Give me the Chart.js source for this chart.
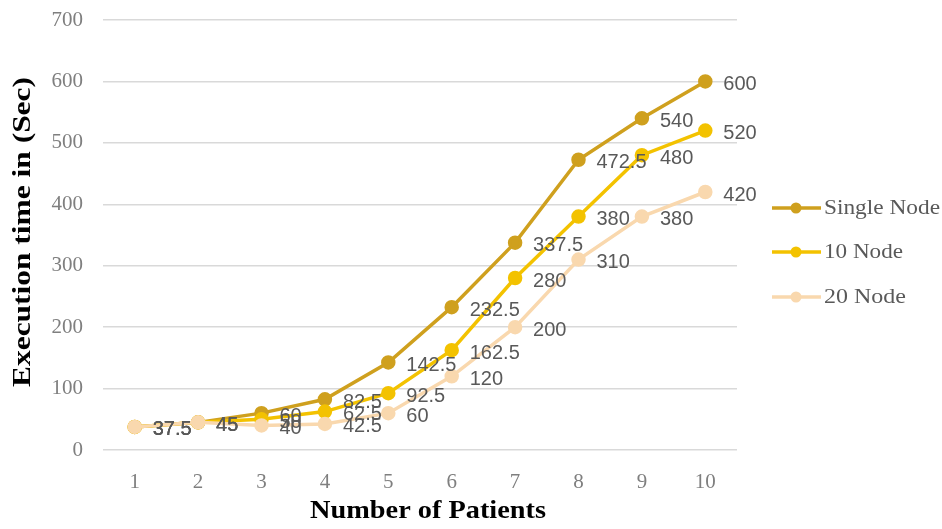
<!DOCTYPE html>
<html>
<head>
<meta charset="utf-8">
<script src="https://cdn.jsdelivr.net/npm/chart.js@4.4.1/dist/chart.umd.min.js"></script>
<style>
  html, body { margin: 0; padding: 0; background: #ffffff; }
  #wrap { width: 942px; height: 529px; }
</style>
</head>
<body>
<div id="wrap"><canvas id="c" width="942" height="529"></canvas></div>
<script>
const categories = ['1', '2', '3', '4', '5', '6', '7', '8', '9', '10'];
const seriesNames = ['Single Node', '10 Node', '20 Node'];
const singleNode = [37.5, 45, 60, 82.5, 142.5, 232.5, 337.5, 472.5, 540, 600];
const tenNode = [37.5, 45, 50, 62.5, 92.5, 162.5, 280, 380, 480, 520];
const twentyNode = [37.5, 45, 40, 42.5, 60, 120, 200, 310, 380, 420];
const yTicks = [0, 100, 200, 300, 400, 500, 600, 700];
const xTitle = 'Number of Patients';
const yTitle = 'Execution time in (Sec)';

const colors = ['#CFA01E', '#F3C200', '#F9D8AE'];
const seriesValues = [singleNode, tenNode, twentyNode];

function stretchedText(ctx, text, x, y, targetWidth) {
  const w = ctx.measureText(text).width;
  const s = targetWidth / w;
  ctx.save();
  ctx.translate(x, y);
  ctx.scale(s, 1);
  ctx.fillText(text, 0, 0);
  ctx.restore();
}

const overlayPlugin = {
  id: 'overlay',
  afterDatasetsDraw(chart) {
    const ctx = chart.ctx;
    ctx.save();
    // data labels
    ctx.font = '20px "Liberation Sans", Arial, sans-serif';
    ctx.fillStyle = '#595959';
    ctx.textAlign = 'left';
    ctx.textBaseline = 'middle';
    chart.data.datasets.forEach((ds, di) => {
      const meta = chart.getDatasetMeta(di);
      meta.data.forEach((pt, i) => {
        ctx.fillText(String(ds.data[i]), pt.x + 18, pt.y + 3);
      });
    });
    // axis titles
    ctx.fillStyle = '#000000';
    ctx.font = 'bold 25px "Liberation Serif", "Times New Roman", serif';
    ctx.textAlign = 'center';
    ctx.textBaseline = 'middle';
    stretchedText(ctx, xTitle, 428, 512, 236);
    ctx.save();
    ctx.translate(24, 232);
    ctx.rotate(-Math.PI / 2);
    stretchedText(ctx, yTitle, 0, 0, 310);
    ctx.restore();
    // legend
    const legendY = [208, 252, 297];
    ctx.font = '20px "Liberation Serif", "Times New Roman", serif';
    ctx.textAlign = 'left';
    const legendWidths = [116, 79, 82];
    chart.data.datasets.forEach((ds, di) => {
      const y = legendY[di];
      ctx.strokeStyle = ds.borderColor;
      ctx.lineWidth = 3.5;
      ctx.beginPath();
      ctx.moveTo(772, y);
      ctx.lineTo(821, y);
      ctx.stroke();
      ctx.fillStyle = ds.borderColor;
      ctx.beginPath();
      ctx.arc(796, y, 5.5, 0, Math.PI * 2);
      ctx.fill();
      ctx.fillStyle = '#595959';
      stretchedText(ctx, ds.label, 824, y + 1, legendWidths[di]);
    });
    ctx.restore();
  }
};

const datasets = seriesNames.map((name, i) => ({
  label: name,
  data: seriesValues[i],
  borderColor: colors[i],
  backgroundColor: colors[i],
  pointBackgroundColor: colors[i],
  pointBorderColor: colors[i],
  pointRadius: 5.5,
  pointHoverRadius: 5.5,
  borderWidth: 3.5,
  tension: 0,
  fill: false,
  order: 3 - i
}));

new Chart(document.getElementById('c'), {
  type: 'line',
  data: { labels: categories, datasets },
  options: {
    responsive: false,
    animation: false,
    events: [],
    layout: { padding: { left: 0, right: 205, top: 20, bottom: 0 } },
    plugins: {
      legend: { display: false },
      tooltip: { enabled: false },
      title: { display: false }
    },
    scales: {
      x: {
        offset: true,
        grid: { display: false, drawTicks: false },
        border: { display: false },
        ticks: {
          color: '#7f7f7f',
          font: { family: '"Liberation Serif", "Times New Roman", serif', size: 21 },
          padding: 20,
          maxRotation: 0
        },
        afterFit(scale) { scale.height = 79; scale.paddingLeft = 0; scale.paddingRight = 0; }
      },
      y: {
        min: 0,
        max: 700,
        afterBuildTicks(scale) { scale.ticks = yTicks.map(v => ({ value: v })); },
        grid: { color: '#d9d9d9', lineWidth: 1.5, drawTicks: false },
        border: { display: false },
        ticks: {
          color: '#7f7f7f',
          font: { family: '"Liberation Serif", "Times New Roman", serif', size: 21 },
          padding: 20
        },
        afterFit(scale) { scale.width = 103; scale.paddingTop = 0; scale.paddingBottom = 0; }
      }
    }
  },
  plugins: [overlayPlugin]
});
</script>
</body>
</html>
